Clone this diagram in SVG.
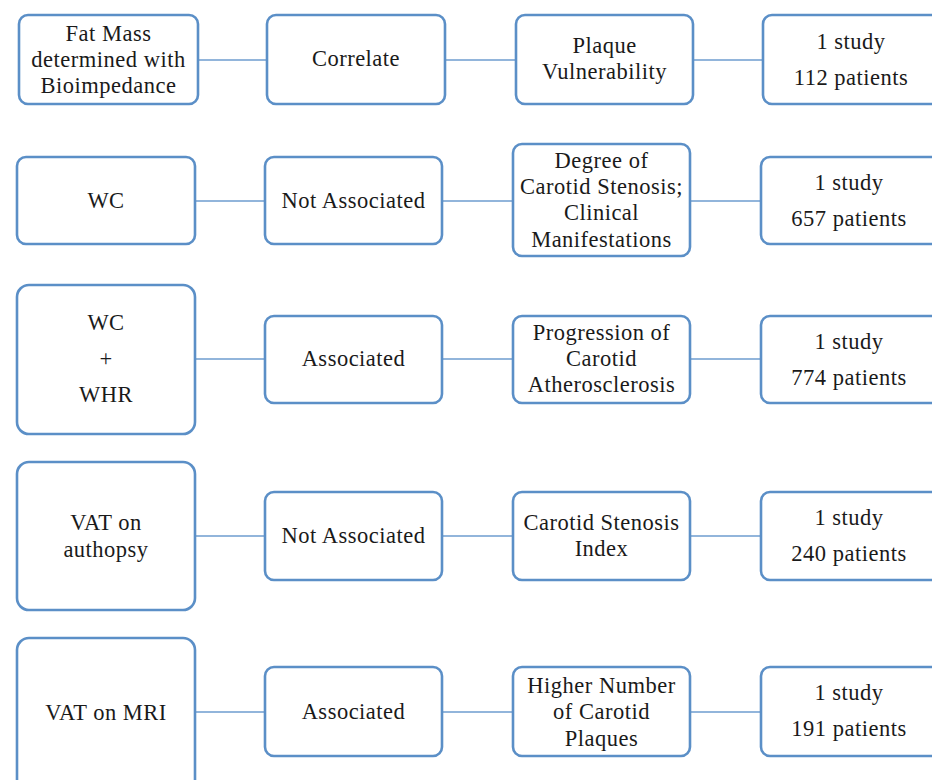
<svg xmlns="http://www.w3.org/2000/svg" width="932" height="780" viewBox="0 0 932 780">
  <style>
    .box { fill: #ffffff; stroke: #5b8fc7; stroke-width: 2.6; }
    .link { stroke: #92b5db; stroke-width: 2; fill: none; }
    text { font-family: "Liberation Serif", "Times New Roman", serif; font-size: 22.5px; letter-spacing: 0.5px; fill: #1a1a1a; text-anchor: middle; dominant-baseline: central; }
  </style>

  <g id="connectors">
    <line class="link" x1="198" y1="60" x2="267" y2="60"/>
    <line class="link" x1="445" y1="60" x2="516" y2="60"/>
    <line class="link" x1="693" y1="60" x2="763" y2="60"/>

    <line class="link" x1="195" y1="201" x2="265" y2="201"/>
    <line class="link" x1="442" y1="201" x2="513" y2="201"/>
    <line class="link" x1="690" y1="201" x2="761" y2="201"/>

    <line class="link" x1="195" y1="359" x2="265" y2="359"/>
    <line class="link" x1="442" y1="359" x2="513" y2="359"/>
    <line class="link" x1="690" y1="359" x2="761" y2="359"/>

    <line class="link" x1="195" y1="536" x2="265" y2="536"/>
    <line class="link" x1="442" y1="536" x2="513" y2="536"/>
    <line class="link" x1="690" y1="536" x2="761" y2="536"/>

    <line class="link" x1="195" y1="712" x2="265" y2="712"/>
    <line class="link" x1="442" y1="712" x2="513" y2="712"/>
    <line class="link" x1="690" y1="712" x2="761" y2="712"/>
  </g>

  <!-- Row 1 -->
  <g id="fat-mass">
    <rect class="box" x="19" y="15" width="179" height="89" rx="9"/>
    <text x="108.5" y="33">Fat Mass</text>
    <text x="108.5" y="59">determined with</text>
    <text x="108.5" y="85">Bioimpedance</text>
  </g>
  <g id="correlate">
    <rect class="box" x="267" y="15" width="178" height="89" rx="9"/>
    <text x="356" y="58">Correlate</text>
  </g>
  <g id="plaque-vulnerability">
    <rect class="box" x="516" y="15" width="177" height="89" rx="9"/>
    <text x="604.5" y="45">Plaque</text>
    <text x="604.5" y="71">Vulnerability</text>
  </g>
  <g id="study-112">
    <rect class="box" x="763" y="15" width="190" height="89" rx="9"/>
    <text x="851" y="41">1 study</text>
    <text x="851" y="77">112 patients</text>
  </g>

  <!-- Row 2 -->
  <g id="wc">
    <rect class="box" x="17" y="157" width="178" height="87" rx="9"/>
    <text x="106" y="200">WC</text>
  </g>
  <g id="not-associated-1">
    <rect class="box" x="265" y="157" width="177" height="87" rx="9"/>
    <text x="353.5" y="200">Not Associated</text>
  </g>
  <g id="carotid-stenosis-degree">
    <rect class="box" x="513" y="144" width="177" height="112" rx="9"/>
    <text x="601.5" y="160">Degree of</text>
    <text x="601.5" y="186">Carotid Stenosis;</text>
    <text x="601.5" y="212">Clinical</text>
    <text x="601.5" y="239">Manifestations</text>
  </g>
  <g id="study-657">
    <rect class="box" x="761" y="157" width="190" height="87" rx="9"/>
    <text x="849" y="182">1 study</text>
    <text x="849" y="218">657 patients</text>
  </g>

  <!-- Row 3 -->
  <g id="wc-whr">
    <rect class="box" x="17" y="285" width="178" height="149" rx="12"/>
    <text x="106" y="322">WC</text>
    <text x="106" y="358">+</text>
    <text x="106" y="394">WHR</text>
  </g>
  <g id="associated-1">
    <rect class="box" x="265" y="316" width="177" height="87" rx="9"/>
    <text x="353.5" y="358">Associated</text>
  </g>
  <g id="progression">
    <rect class="box" x="513" y="316" width="177" height="87" rx="9"/>
    <text x="601.5" y="332">Progression of</text>
    <text x="601.5" y="358">Carotid</text>
    <text x="601.5" y="384">Atherosclerosis</text>
  </g>
  <g id="study-774">
    <rect class="box" x="761" y="316" width="190" height="87" rx="9"/>
    <text x="849" y="341">1 study</text>
    <text x="849" y="377">774 patients</text>
  </g>

  <!-- Row 4 -->
  <g id="vat-autopsy">
    <rect class="box" x="17" y="462" width="178" height="148" rx="12"/>
    <text x="106" y="522">VAT on</text>
    <text x="106" y="549">authopsy</text>
  </g>
  <g id="not-associated-2">
    <rect class="box" x="265" y="492" width="177" height="88" rx="9"/>
    <text x="353.5" y="535">Not Associated</text>
  </g>
  <g id="stenosis-index">
    <rect class="box" x="513" y="492" width="177" height="88" rx="9"/>
    <text x="601.5" y="522">Carotid Stenosis</text>
    <text x="601.5" y="548">Index</text>
  </g>
  <g id="study-240">
    <rect class="box" x="761" y="492" width="190" height="88" rx="9"/>
    <text x="849" y="517">1 study</text>
    <text x="849" y="553">240 patients</text>
  </g>

  <!-- Row 5 -->
  <g id="vat-mri">
    <rect class="box" x="17" y="638" width="178" height="160" rx="12"/>
    <text x="106" y="712">VAT on MRI</text>
  </g>
  <g id="associated-2">
    <rect class="box" x="265" y="667" width="177" height="89" rx="9"/>
    <text x="353.5" y="711">Associated</text>
  </g>
  <g id="carotid-plaques">
    <rect class="box" x="513" y="667" width="177" height="89" rx="9"/>
    <text x="601.5" y="685">Higher Number</text>
    <text x="601.5" y="711">of Carotid</text>
    <text x="601.5" y="738">Plaques</text>
  </g>
  <g id="study-191">
    <rect class="box" x="761" y="667" width="190" height="89" rx="9"/>
    <text x="849" y="692">1 study</text>
    <text x="849" y="728">191 patients</text>
  </g>
</svg>
